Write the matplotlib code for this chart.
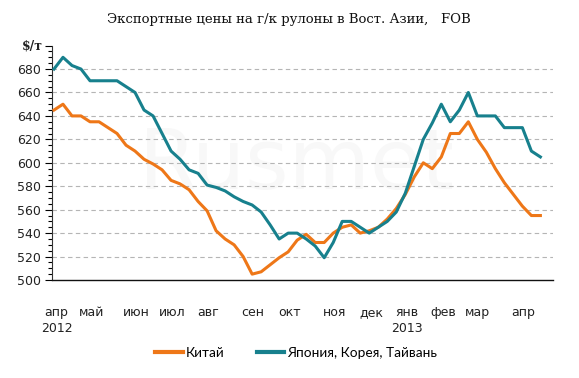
import matplotlib
matplotlib.use("Agg")
import matplotlib.pyplot as plt
import numpy as np
from matplotlib.transforms import offset_copy

title = "Экспортные цены на г/к рулоны в Вост. Азии,   FOB"
unit_label = "$/т"
series_names = ["Китай", "Япония, Корея, Тайвань"]

china = [645, 650, 640, 640, 635, 635, 630, 625, 615, 610,
         603, 599, 594, 585, 582, 577, 567, 559, 542, 535,
         530, 520, 505, 507, 513, 519, 524, 534, 539, 532,
         532, 540, 545, 547, 540, 542, 545, 552, 561, 573,
         588, 600, 595, 605, 625, 625, 635, 620, 609, 595,
         583, 573, 563, 555, 555]
asia = [680, 690, 683, 680, 670, 670, 670, 670, 665, 660,
        645, 640, 625, 610, 603, 594, 591, 581, 579, 576,
        571, 567, 564, 558, 547, 535, 540, 540, 535, 529,
        519, 532, 550, 550, 545, 540, 545, 550, 558, 574,
        597, 620, 634, 650, 635, 645, 660, 640, 640, 640,
        630, 630, 630, 610, 605]

month_labels = ["апр\n2012", "май", "июн", "июл", "авг", "сен", "окт",
                "ноя", "дек", "янв\n2013", "фев", "мар", "апр"]
month_pos = [0.3, 4.2, 9.1, 13.1, 17.1, 22.1, 26.1, 31.1, 35.2, 39.2, 43.2, 47.0, 52.1]

y_ticks = [500, 520, 540, 560, 580, 600, 620, 640, 660, 680, 700]

orange = "#EE7718"
teal = "#17808D"

fig = plt.figure(figsize=(5.79, 3.78), dpi=100)
ax = fig.add_axes([52/579, 1 - 280/378, (553-52)/579, (280-45.6)/378])

x = np.arange(len(china))

ax.text(27, 598, "Rusmet", fontsize=60, color="#f8f8f8", ha="center", va="center", zorder=0)

for v in y_ticks[1:-1]:
    ax.axhline(v, color="#b5b5b5", lw=0.8, ls=(0, (4, 3)), zorder=1)

ax.plot(x, china, color=orange, lw=2.2, label=series_names[0], zorder=3)
ax.plot(x, asia, color=teal, lw=2.2, label=series_names[1], zorder=3)

ax.set_xlim(-0.22, 55.4)
ax.set_ylim(500, 700)

ax.set_yticks(y_ticks)
ax.set_yticklabels([str(v) for v in y_ticks[:-1]] + [""], fontsize=9, color="#222222")
ax.set_yticks(np.arange(500, 701, 5), minor=True)
ax.tick_params(axis="y", which="major", length=5, width=0.8, direction="out", pad=3)
ax.tick_params(axis="y", which="minor", length=3, width=0.8, direction="out")
trans = offset_copy(ax.get_yaxis_transform(), fig=fig, x=-9, y=0, units="dots")
ax.text(0, 700, unit_label, transform=trans, ha="right", va="center",
        fontsize=9, fontweight="bold", family="DejaVu Serif", color="#222222")

ax.set_xticks(month_pos)
ax.set_xticklabels(month_labels, fontsize=9, color="#222222", linespacing=1.25)
ax.tick_params(axis="x", length=0, pad=19)

for s in ["top", "right"]:
    ax.spines[s].set_visible(False)
ax.spines["left"].set_color("#333333")
ax.spines["bottom"].set_color("#111111")
ax.spines["left"].set_linewidth(0.8)
ax.spines["bottom"].set_linewidth(1.0)

fig.text(289/579, 1 - 20/378, title, ha="center", va="center", fontsize=9.5,
         family="DejaVu Serif", color="#111111")

leg = fig.legend(loc="center", bbox_to_anchor=(296/579, 1 - 353/378), ncol=2, frameon=False,
                 prop={"family": "Lato", "size": 9.8},
                 handlelength=2.0, handletextpad=0.2, columnspacing=2.4)
for line in leg.get_lines():
    line.set_linewidth(3)

fig.savefig("out.png", dpi=100)
